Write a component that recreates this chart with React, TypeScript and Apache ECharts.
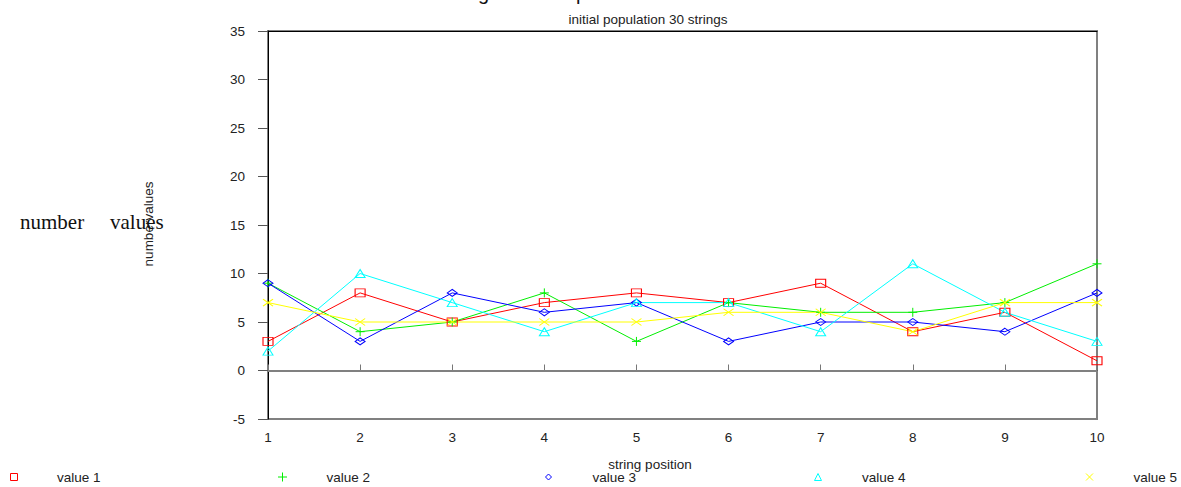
import React, { useEffect, useRef } from 'react';
import * as echarts from 'echarts';

const positions = [1, 2, 3, 4, 5, 6, 7, 8, 9, 10];
const value1 = [3, 8, 5, 7, 8, 7, 9, 4, 6, 1];
const value2 = [9, 4, 5, 8, 3, 7, 6, 6, 7, 11];
const value3 = [9, 3, 8, 6, 7, 3, 5, 5, 4, 8];
const value4 = [2, 10, 7, 4, 7, 7, 4, 11, 6, 3];
const value5 = [7, 5, 5, 5, 5, 6, 6, 4, 7, 7];
const seriesNames = ['value 1', 'value 2', 'value 3', 'value 4', 'value 5'];
const seriesValues = [value1, value2, value3, value4, value5];
const yMin = -5;
const yMax = 35;
const yStep = 5;
const xMin = 1;
const xMax = 10;

const titleText = 'Strings at each position';
const subtitleText = 'initial population 30 strings';
const xAxisName = 'string position';
const yAxisName = 'numbervalues';
const sideLabelA = 'number';
const sideLabelB = 'values';

const colors = ['#ff0000', '#00ee00', '#0000ff', '#00ffff', '#ffff00'];
const symbols = [
  'path://M0,0L10,0L10,10L0,10Z',
  'path://M0,5L10,5M5,0L5,10',
  'path://M5,0L10,5L5,10L0,5Z',
  'path://M5,0L10,10L0,10Z',
  'path://M0,0L10,10M10,0L0,10',
];
const symbolSizes = [[10, 8], [9, 9], [10, 7], [10, 8], [10, 7]];
const legendIconSizes = [[10, 7], [9, 9], [10, 6], [10, 7], [9, 7]];
const legendIconCenters = [15, 282, 550, 819, 1090];
const legendLabelStarts = [58, 326, 594, 863, 1134];

const FONT = '"Liberation Sans", Arial, Helvetica, sans-serif';
const FS = 13.5;

export default function App() {
  const ref = useRef<HTMLDivElement>(null);
  useEffect(() => {
    if (!ref.current) return;
    const chart = echarts.init(ref.current, undefined, { renderer: 'svg' });

    const series: any[] = seriesNames.map((name, i) => ({
      name,
      type: 'line',
      data: positions.map((x, j) => [x, seriesValues[i][j]]),
      symbol: symbols[i],
      symbolSize: symbolSizes[i],
      showSymbol: true,
      showAllSymbol: true,
      lineStyle: { color: colors[i], width: 1 },
      itemStyle: { color: 'transparent', borderColor: colors[i], borderWidth: 1 },
      emphasis: { disabled: true },
      z: 3,
      silent: true,
    }));
    series[0].markLine = {
      silent: true,
      symbol: 'none',
      label: { show: false },
      lineStyle: { color: '#808080', width: 2, type: 'solid' },
      data: [{ yAxis: 0 }],
      z: 1,
    };

    const legends = seriesNames.map((name, i) => {
      const [w, h] = legendIconSizes[i];
      const left = legendIconCenters[i] - w / 2;
      return {
        data: [{ name, icon: symbols[i] }],
        left,
        top: 470,
        padding: 0,
        itemWidth: w,
        itemHeight: h,
        selectedMode: false,
        itemStyle: { color: 'transparent', borderColor: colors[i], borderWidth: 1 },
        textStyle: {
          color: '#222',
          fontSize: FS,
          fontFamily: FONT,
          padding: [0, 0, 0, legendLabelStarts[i] - (left + w + 5)],
        },
      };
    });

    chart.setOption({
      animation: false,
      backgroundColor: '#ffffff',
      grid: {
        left: 268,
        right: 84,
        top: 31,
        bottom: 68,
        show: true,
        borderColor: '#808080',
        borderWidth: 2,
        containLabel: false,
      },
      legend: legends,
      xAxis: [
        {
          type: 'value',
          min: xMin,
          max: xMax,
          interval: 1,
          position: 'bottom',
          axisLine: { show: true, lineStyle: { color: '#000', width: 1 } },
          axisTick: { show: true, inside: true, length: 6, lineStyle: { color: '#777' } },
          axisLabel: { color: '#222', fontSize: FS, fontFamily: FONT, margin: 11 },
          splitLine: { show: false },
        },
        {
          type: 'value',
          min: xMin,
          max: xMax,
          interval: 1,
          position: 'top',
          axisLine: { show: true, lineStyle: { color: '#000', width: 1 } },
          axisTick: { show: false },
          axisLabel: { show: false },
          splitLine: { show: false },
        },
      ],
      yAxis: {
        type: 'value',
        min: yMin,
        max: yMax,
        interval: yStep,
        axisLine: { show: true, lineStyle: { color: '#000', width: 1 } },
        axisTick: { show: true, inside: false, length: 10, lineStyle: { color: '#555' } },
        axisLabel: { color: '#222', fontSize: FS, fontFamily: FONT, margin: 23 },
        splitLine: { show: false },
      },
      graphic: [
        {
          type: 'text',
          left: 437,
          top: -17,
          silent: true,
          style: { text: titleText, fontSize: 20, fontFamily: FONT, fill: '#111' },
        },
        {
          type: 'text',
          x: 648,
          y: 19,
          silent: true,
          style: {
            text: subtitleText,
            fontSize: FS,
            fontFamily: FONT,
            fill: '#222',
            align: 'center',
            verticalAlign: 'middle',
          },
        },
        {
          type: 'text',
          x: 650,
          y: 464,
          silent: true,
          style: {
            text: xAxisName,
            fontSize: FS,
            fontFamily: FONT,
            fill: '#222',
            align: 'center',
            verticalAlign: 'middle',
          },
        },
        {
          type: 'text',
          x: 148,
          y: 224,
          rotation: Math.PI / 2,
          silent: true,
          style: {
            text: yAxisName,
            fontSize: FS,
            fontFamily: FONT,
            fill: '#222',
            align: 'center',
            verticalAlign: 'middle',
          },
        },
        {
          type: 'text',
          x: 20,
          y: 222,
          silent: true,
          style: {
            text: sideLabelA,
            fontSize: 21,
            fontFamily: '"Liberation Serif", "Times New Roman", serif',
            fill: '#111',
            align: 'left',
            verticalAlign: 'middle',
          },
        },
        {
          type: 'text',
          x: 110,
          y: 222,
          silent: true,
          style: {
            text: sideLabelB,
            fontSize: 21,
            fontFamily: '"Liberation Serif", "Times New Roman", serif',
            fill: '#111',
            align: 'left',
            verticalAlign: 'middle',
          },
        },
      ],
      series,
    });
    return () => chart.dispose();
  }, []);
  return (
    <div
      ref={ref}
      style={{ position: 'fixed', left: 0, top: 0, width: 1181, height: 487, background: '#fff' }}
    />
  );
}
